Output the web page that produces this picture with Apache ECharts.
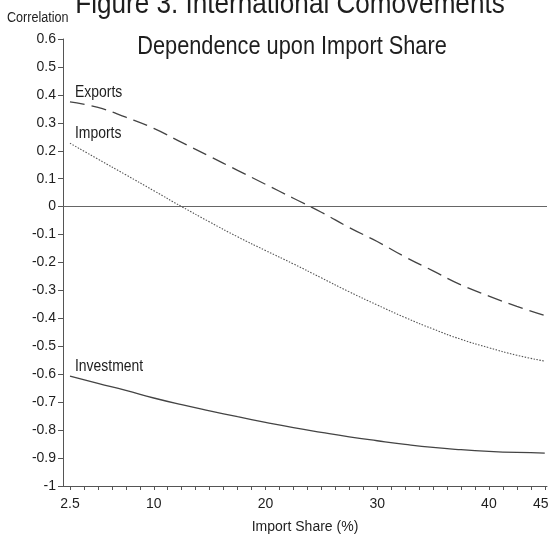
<!DOCTYPE html>
<html>
<head>
<meta charset="utf-8">
<script src="https://cdn.jsdelivr.net/npm/echarts@6/dist/echarts.min.js"></script>
<style>
  html, body { margin: 0; padding: 0; background: #fff; }
  #chart { width: 550px; height: 535px; }
</style>
</head>
<body>
<div id="chart"></div>
<script>
// import share (%) grid the curves were read at
const shares = [2.5, 5, 7.5, 10, 12.5, 15, 17.5, 20, 22.5, 25, 27.5, 30, 32.5, 35, 37.5, 40, 42.5, 45]
const exportsCorr = [0.375, 0.355, 0.32, 0.28, 0.23, 0.18, 0.13, 0.08, 0.03, -0.02, -0.075, -0.125, -0.18, -0.23, -0.28, -0.32, -0.357, -0.39]
const importsCorr = [0.227, 0.17, 0.114, 0.057, 0.0, -0.055, -0.108, -0.157, -0.205, -0.255, -0.305, -0.352, -0.397, -0.438, -0.475, -0.505, -0.532, -0.553]
const investCorr = [-0.607, -0.633, -0.658, -0.685, -0.709, -0.731, -0.752, -0.772, -0.791, -0.808, -0.824, -0.838, -0.851, -0.862, -0.87, -0.876, -0.88, -0.882]
const xLabels = [2.5, 10, 20, 30, 40, 45]
const seriesNames = ['Exports', 'Imports', 'Investment']

const FONT = '"Liberation Sans", Arial, sans-serif'
const INK = '#1e1e1e'

// minor ticks every 1.25 from 2.5 to 45
const xTicks = []
for (let v = 2.5; v <= 45.001; v += 1.25) xTicks.push(+v.toFixed(2))

const pairs = arr => shares.map((s, i) => [s, arr[i]])

const chart = echarts.init(document.getElementById('chart'))

const option = {
  animation: false,
  grid: { left: 63, right: 3, top: 39, bottom: 49, outerBoundsMode: 'none' },
  xAxis: {
    type: 'value',
    min: 1.875,
    max: 45.2,
    name: 'Import Share (%)',
    nameLocation: 'middle',
    nameGap: 34,
    nameTextStyle: { fontFamily: FONT, fontSize: 14, color: INK },
    axisLine: { onZero: false, lineStyle: { color: '#555', width: 1 } },
    axisTick: { customValues: xTicks, length: 4, lineStyle: { color: '#555' } },
    axisLabel: {
      customValues: xLabels,
      margin: 11,
      fontFamily: FONT, fontSize: 14, color: INK,
      // last label is nudged left so it stays inside the picture
      formatter: v => v === xLabels[xLabels.length - 1] ? '{e|' + v + '}' : String(v),
      rich: { e: { fontFamily: FONT, fontSize: 14, color: INK, padding: [0, 8, 0, 0] } }
    },
    splitLine: { show: false }
  },
  yAxis: {
    type: 'value',
    min: -1,
    max: 0.6,
    interval: 0.1,
    axisLine: { show: true, lineStyle: { color: '#555', width: 1 } },
    axisTick: { show: true, length: 5, lineStyle: { color: '#555' } },
    axisLabel: {
      margin: 7,
      fontFamily: FONT, fontSize: 14, color: INK,
      formatter: v => String(+v.toFixed(1))
    },
    splitLine: { show: false }
  },
  series: [
    {
      name: seriesNames[0],
      type: 'line',
      smooth: true,
      showSymbol: false,
      data: pairs(exportsCorr),
      lineStyle: { color: '#444', width: 1.3, type: [15, 7] },
      markLine: {
        silent: true,
        symbol: 'none',
        label: { show: false },
        lineStyle: { color: '#666', width: 1, type: 'solid' },
        data: [{ yAxis: 0 }]
      }
    },
    {
      name: seriesNames[1],
      type: 'line',
      smooth: true,
      showSymbol: false,
      data: pairs(importsCorr),
      lineStyle: { color: '#555', width: 1.1, type: [1.5, 1.5] }
    },
    {
      name: seriesNames[2],
      type: 'line',
      smooth: true,
      showSymbol: false,
      data: pairs(investCorr),
      lineStyle: { color: '#444', width: 1.3, type: 'solid' }
    }
  ]
}
chart.setOption(option)

// curve labels sit just above each curve's first point
const starts = [exportsCorr[0], importsCorr[0], investCorr[0]]
const curveLabels = seriesNames.map((name, i) => {
  const p = chart.convertToPixel({ gridIndex: 0 }, [shares[0], starts[i]])
  return {
    type: 'text',
    x: p[0] + 5,
    y: p[1] - 1,
    scaleX: 0.82,
    style: { text: name, font: '17px ' + FONT, fill: INK, verticalAlign: 'bottom' }
  }
})

chart.setOption({
  graphic: [
    {
      type: 'text', x: 290, y: 5, scaleX: 0.9,
      style: { text: 'Figure 3. International Comovements', font: '29px ' + FONT, fill: INK, align: 'center', verticalAlign: 'middle' }
    },
    {
      type: 'text', x: 7, y: 18, scaleX: 0.9,
      style: { text: 'Correlation', font: '14px ' + FONT, fill: INK, verticalAlign: 'middle' }
    },
    {
      type: 'text', x: 292, y: 47, scaleX: 0.87,
      style: { text: 'Dependence upon Import Share', font: '25px ' + FONT, fill: INK, align: 'center', verticalAlign: 'middle' }
    }
  ].concat(curveLabels)
})
</script>
</body>
</html>
